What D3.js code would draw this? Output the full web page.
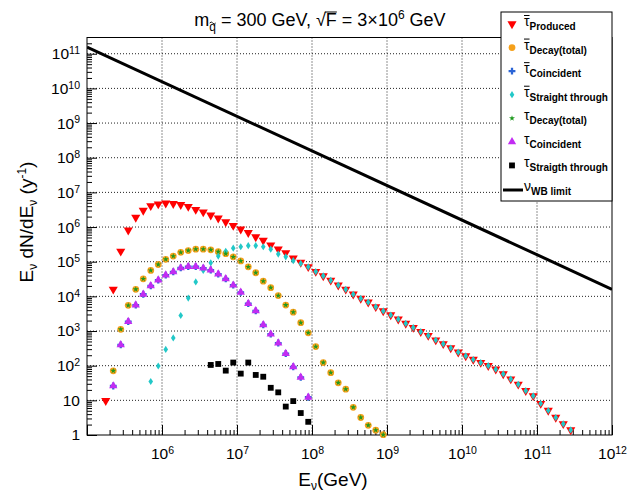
<!DOCTYPE html>
<html lang="en">
<head>
<meta charset="UTF-8">
<title>tau neutrino yield</title>
<style>
  body { margin: 0; background: #fff; }
  svg { display: block; }
</style>
</head>
<body>
<script src="https://cdn.jsdelivr.net/npm/d3@7"></script>
<div id="chart"></div>
<script>
// energy bin centres (GeV), 0.1 decade bins
const energy = [
  1.778e5, 2.239e5, 2.818e5, 3.548e5, 4.467e5, 5.623e5, 7.079e5, 8.913e5,
  1.122e6, 1.413e6, 1.778e6, 2.239e6, 2.818e6, 3.548e6, 4.467e6, 5.623e6, 7.079e6, 8.913e6,
  1.122e7, 1.413e7, 1.778e7, 2.239e7, 2.818e7, 3.548e7, 4.467e7, 5.623e7, 7.079e7, 8.913e7,
  1.122e8, 1.413e8, 1.778e8, 2.239e8, 2.818e8, 3.548e8, 4.467e8, 5.623e8, 7.079e8, 8.913e8,
  1.122e9, 1.413e9, 1.778e9, 2.239e9, 2.818e9, 3.548e9, 4.467e9, 5.623e9, 7.079e9, 8.913e9,
  1.122e10, 1.413e10, 1.778e10, 2.239e10, 2.818e10, 3.548e10, 4.467e10, 5.623e10, 7.079e10, 8.913e10,
  1.122e11, 1.413e11, 1.778e11, 2.239e11, 2.818e11
];

// E dN/dE (per year), one value per energy bin, null = no entry
const tauBarProduced = [
  9.8, 1.6e4, 2.0e5, 8.1e5, 1.9e6, 3.0e6, 4.1e6, 4.6e6,
  4.9e6, 4.7e6, 4.4e6, 3.9e6, 3.2e6, 2.7e6, 2.2e6, 1.8e6, 1.4e6, 1.1e6,
  8.7e5, 6.9e5, 5.2e5, 4.1e5, 3.0e5, 2.3e5, 1.8e5, 1.26e5, 9.5e4, 7.1e4,
  5.2e4, 3.9e4, 2.9e4, 2.1e4, 1.6e4, 1.15e4, 8.7e3, 6.8e3, 5.0e3, 3.8e3,
  2.9e3, 2.2e3, 1.66e3, 1.26e3, 955, 741, 550, 427, 324, 245,
  191, 151, 123, 100, 79, 58, 41, 29, 19, 13.5,
  8.1, 5.1, 3.2, 2.1, 1.4
];
const tauBarDecay = [
  null, 71, 1.12e3, 5.5e3, 1.6e4, 3.2e4, 5.6e4, 8.3e4,
  1.17e5, 1.45e5, 1.86e5, 2.1e5, 2.3e5, 2.3e5, 2.2e5, 1.95e5, 1.7e5, 1.38e5,
  1.05e5, 7.1e4, 4.8e4, 2.75e4, 1.78e4, 1.05e4, 5.6e3, 3.5e3, 1.74e3, 890,
  355, 123, 63, 32, 21, 6.3, 3.2, 1.9, 1.38, 1.02
];
const tauBarCoincident = [
  null, 26, 400, 1.86e3, 5.6e3, 1.15e4, 2.0e4, 2.95e4,
  4.1e4, 5.1e4, 6.6e4, 7.2e4, 7.2e4, 6.5e4, 5.75e4, 4.4e4, 3.2e4, 2.1e4,
  1.3e4, 6.2e3, 3.8e3, 1.5e3, 810, 450, 224, 93, 46, 12.3
];
const tauBarStraight = [
  null, null, null, null, null, null, 35, 98,
  295, 631, 2.8e3, 8.9e3, 2.6e4, 5.6e4, 9.3e4, 1.45e5, 2.0e5, 2.45e5,
  2.7e5, 2.9e5, 2.9e5, 2.7e5, 2.3e5, 1.66e5, 1.38e5, 1.07e5, 8.9e4, 7.1e4,
  5.2e4, 3.9e4, 2.9e4, 2.1e4, 1.6e4, 1.15e4, 8.7e3, 6.8e3, 5.0e3, 3.8e3,
  2.9e3, 2.2e3, 1.66e3, 1.26e3, 955, 741, 550, 427, 324, 245,
  191, 151, 123, 100, 79, 58, 41, 29, 19, 13.5,
  8.1, 5.1, 3.2, 2.1, 1.4
];
const tauDecay = [
  null, 71, 1.12e3, 5.5e3, 1.6e4, 3.2e4, 5.6e4, 8.3e4,
  1.17e5, 1.45e5, 1.86e5, 2.1e5, 2.3e5, 2.3e5, 2.2e5, 1.95e5, 1.7e5, 1.38e5,
  1.05e5, 7.1e4, 4.8e4, 2.75e4, 1.78e4, 1.05e4, 5.6e3, 3.5e3, 1.74e3, 890,
  355, 123, 63, 32, 21, 6.3, 3.2, 1.9, 1.38, 1.02
];
const tauCoincident = [
  null, 26, 400, 1.86e3, 5.6e3, 1.15e4, 2.0e4, 2.95e4,
  4.1e4, 5.1e4, 6.6e4, 7.2e4, 7.2e4, 6.5e4, 5.75e4, 4.4e4, 3.2e4, 2.1e4,
  1.3e4, 6.2e3, 3.8e3, 1.5e3, 810, 450, 224, 93, 46, 12.3
];
const tauStraight = [
  null, null, null, null, null, null, null, null,
  null, null, null, null, null, null, 105, 112, 72, 123,
  59, 123, 54, 48, 23, 17, 6.6, 9.5, 4.3, 2.4
];

// Waxman-Bahcall bound, end points
const wbEnergy = [1e5, 1e12];
const wbFlux = [1.55e11, 1.6e4];

const xMajor = [1e6, 1e7, 1e8, 1e9, 1e10, 1e11, 1e12];
const yMajor = [1, 10, 1e2, 1e3, 1e4, 1e5, 1e6, 1e7, 1e8, 1e9, 1e10, 1e11];

const legendSubs = ["Produced", "Decay(total)", "Coincident", "Straight through",
                    "Decay(total)", "Coincident", "Straigth through", "WB limit"];

const FONT = "'Liberation Sans', Arial, Helvetica, sans-serif";

const margin = {top: 37.5, right: 32, bottom: 58, left: 87};
const width = 644 - margin.left - margin.right;
const height = 493 - margin.top - margin.bottom;

const svg = d3.select("#chart").append("svg")
  .attr("width", 644)
  .attr("height", 493)
  .style("font-family", FONT)
  .style("background", "#fff");

const g = svg.append("g").attr("transform", `translate(${margin.left},${margin.top})`);

const x = d3.scaleLog().domain([1e5, 1e12]).range([0, width]);
const y = d3.scaleLog().domain([1, 2.94e11]).range([height, 0]);

// marker shapes
const sym = (type, size) => d3.symbol(type, size)();
const diamond = "M0,-3.6L2.3,0L0,3.6L-2.3,0Z";
const series = [
  {vals: tauBarProduced,   color: "#ff0000", path: sym(d3.symbolTriangle, 36), rot: 180, bar: true},
  {vals: tauBarDecay,      color: "#f5a01a", path: sym(d3.symbolCircle, 36),   rot: 0,   bar: true},
  {vals: tauBarCoincident, color: "#2a64d6", path: sym(d3.symbolCross, 26),    rot: 0,   bar: true},
  {vals: tauBarStraight,   color: "#22c8c8", path: diamond,                    rot: 0,   bar: true},
  {vals: tauDecay,         color: "#1f9a1f", path: sym(d3.symbolStar, 11),     rot: 0,   bar: false},
  {vals: tauCoincident,    color: "#c22cf2", path: sym(d3.symbolTriangle, 30), rot: 0,   bar: false},
  {vals: tauStraight,      color: "#000000", path: sym(d3.symbolSquare, 34),   rot: 0,   bar: false}
];

// grid
g.append("g").selectAll("line")
  .data(xMajor.filter(d => d < 1e12))
  .join("line")
    .attr("x1", d => x(d)).attr("x2", d => x(d))
    .attr("y1", 0).attr("y2", height)
    .attr("stroke", "#222").attr("stroke-dasharray", "1,2");
g.append("g").selectAll("line")
  .data(yMajor.filter(d => d > 1))
  .join("line")
    .attr("x1", 0).attr("x2", width)
    .attr("y1", d => y(d)).attr("y2", d => y(d))
    .attr("stroke", "#222").attr("stroke-dasharray", "1,2");

// tick labels like 10^n
function powLabel(sel) {
  sel.each(function(d) {
    const t = d3.select(this);
    const e = Math.round(Math.log10(d));
    t.text(null);
    if (e === 0) t.text("1");
    else if (e === 1) t.text("10");
    else {
      t.append("tspan").text("10");
      t.append("tspan").attr("dy", "-0.5em").attr("font-size", "0.68em").text(e);
    }
  });
}

const xMinor = x.ticks(20).filter(d => Math.abs(Math.log10(d) % 1) > 1e-6);
const yMinor = y.ticks(40).filter(d => Math.abs(Math.log10(d) % 1) > 1e-6);

g.append("g")
  .attr("transform", `translate(0,${height})`)
  .call(d3.axisBottom(x).tickValues(xMinor).tickSize(-5).tickFormat(""))
  .call(a => a.select(".domain").remove());
g.append("g")
  .attr("transform", `translate(0,${height})`)
  .call(d3.axisBottom(x).tickValues(xMajor.concat([1e5])).tickSize(-10).tickPadding(13).tickFormat(d => d))
  .call(a => a.select(".domain").remove())
  .call(a => a.selectAll(".tick text").attr("font-size", 15.5).attr("font-family", FONT).call(powLabel))
  .call(a => a.selectAll(".tick").filter(d => d === 1e5).select("text").remove());

g.append("g")
  .call(d3.axisLeft(y).tickValues(yMinor).tickSize(-5).tickFormat(""))
  .call(a => a.select(".domain").remove());
g.append("g")
  .call(d3.axisLeft(y).tickValues(yMajor).tickSize(-10).tickPadding(7).tickFormat(d => d))
  .call(a => a.select(".domain").remove())
  .call(a => a.selectAll(".tick text").attr("font-size", 15.5).attr("font-family", FONT).call(powLabel));

// frame
g.append("rect")
  .attr("width", width).attr("height", height)
  .attr("fill", "none").attr("stroke", "#000");

// WB limit line
g.append("clipPath").attr("id", "clip")
  .append("rect").attr("width", width).attr("height", height);
g.append("path")
  .datum(wbEnergy.map((e, i) => [e, wbFlux[i]]))
  .attr("clip-path", "url(#clip)")
  .attr("d", d3.line().x(d => x(d[0])).y(d => y(d[1])))
  .attr("fill", "none").attr("stroke", "#000").attr("stroke-width", 3);

// markers
series.forEach(s => {
  const pts = s.vals.map((v, i) => ({e: energy[i], v})).filter(d => d.v != null);
  g.append("g").selectAll("path")
    .data(pts)
    .join("path")
      .attr("transform", d => `translate(${x(d.e)},${y(d.v)}) rotate(${s.rot})`)
      .attr("d", s.path)
      .attr("fill", s.color);
});

// title
const title = svg.append("text")
  .attr("x", 320).attr("y", 26)
  .attr("text-anchor", "middle")
  .attr("font-size", 18);
title.append("tspan").text("m");
title.append("tspan").attr("font-size", 12).attr("dy", 5).text("q");
title.append("tspan").attr("dy", -5).text(" = 300 GeV, \u221A");
title.append("tspan").text("F");
title.append("tspan").text(" = 3\u00D710");
title.append("tspan").attr("font-size", 12).attr("dy", -7).text("6");
title.append("tspan").attr("dy", 7).text(" GeV");
{
  const n = title.node();
  const q = n.getExtentOfChar(1);
  const cx = q.x + q.width / 2, ty = 26 + 5 - 9;
  svg.append("path")
    .attr("d", `M${cx - 3},${ty + 1}q1.5,-2 3,0t3,0`)
    .attr("fill", "none").attr("stroke", "#000").attr("stroke-width", 0.9);
  const f = n.getExtentOfChar(15);
  svg.append("line")
    .attr("x1", f.x - 1).attr("x2", f.x + f.width)
    .attr("y1", 26 - 14).attr("y2", 26 - 14)
    .attr("stroke", "#000").attr("stroke-width", 1);
}

// axis titles
const xt = svg.append("text")
  .attr("x", 333).attr("y", 486)
  .attr("text-anchor", "middle").attr("font-size", 19);
xt.append("tspan").text("E");
xt.append("tspan").attr("font-size", 12).attr("dy", 4).text("\u03BD");
xt.append("tspan").attr("dy", -4).text("(GeV)");

const yt = svg.append("text")
  .attr("transform", "translate(33,222) rotate(-90)")
  .attr("text-anchor", "middle").attr("font-size", 19);
yt.append("tspan").text("E");
yt.append("tspan").attr("font-size", 12).attr("dy", 4).text("\u03BD");
yt.append("tspan").attr("dy", -4).text(" dN/dE");
yt.append("tspan").attr("font-size", 12).attr("dy", 4).text("\u03BD");
yt.append("tspan").attr("dy", -4).text(" (y");
yt.append("tspan").attr("font-size", 12).attr("dy", -7).text("-1");
yt.append("tspan").attr("dy", 7).text(")");

// legend
const lg = svg.append("g").attr("transform", "translate(501,12)");
lg.append("rect").attr("width", 111).attr("height", 189)
  .attr("fill", "#fff").attr("stroke", "#000");
const rowY = d3.scalePoint().domain(d3.range(8)).range([12, 177]);
legendSubs.forEach((sub, i) => {
  const yy = rowY(i);
  if (i < 7) {
    const s = series[i];
    lg.append("path")
      .attr("transform", `translate(11,${yy}) rotate(${s.rot})`)
      .attr("d", s.path).attr("fill", s.color);
  } else {
    lg.append("line").attr("x1", 2).attr("x2", 22).attr("y1", yy + 1).attr("y2", yy + 1)
      .attr("stroke", "#000").attr("stroke-width", 3);
  }
  const t = lg.append("text").attr("x", 23).attr("y", yy + 2).attr("font-size", 14);
  t.append("tspan").text(i < 7 ? "\u03C4" : "\u03BD");
  t.append("tspan").attr("dy", 4).attr("font-size", 10).attr("font-weight", "bold").text(sub);
  if (i < 7 && series[i].bar) {
    const c = t.node().getExtentOfChar(0);
    lg.append("line")
      .attr("x1", c.x).attr("x2", c.x + c.width)
      .attr("y1", yy + 2 - 10.5).attr("y2", yy + 2 - 10.5)
      .attr("stroke", "#000").attr("stroke-width", 1);
  }
});
</script>
</body>
</html>
